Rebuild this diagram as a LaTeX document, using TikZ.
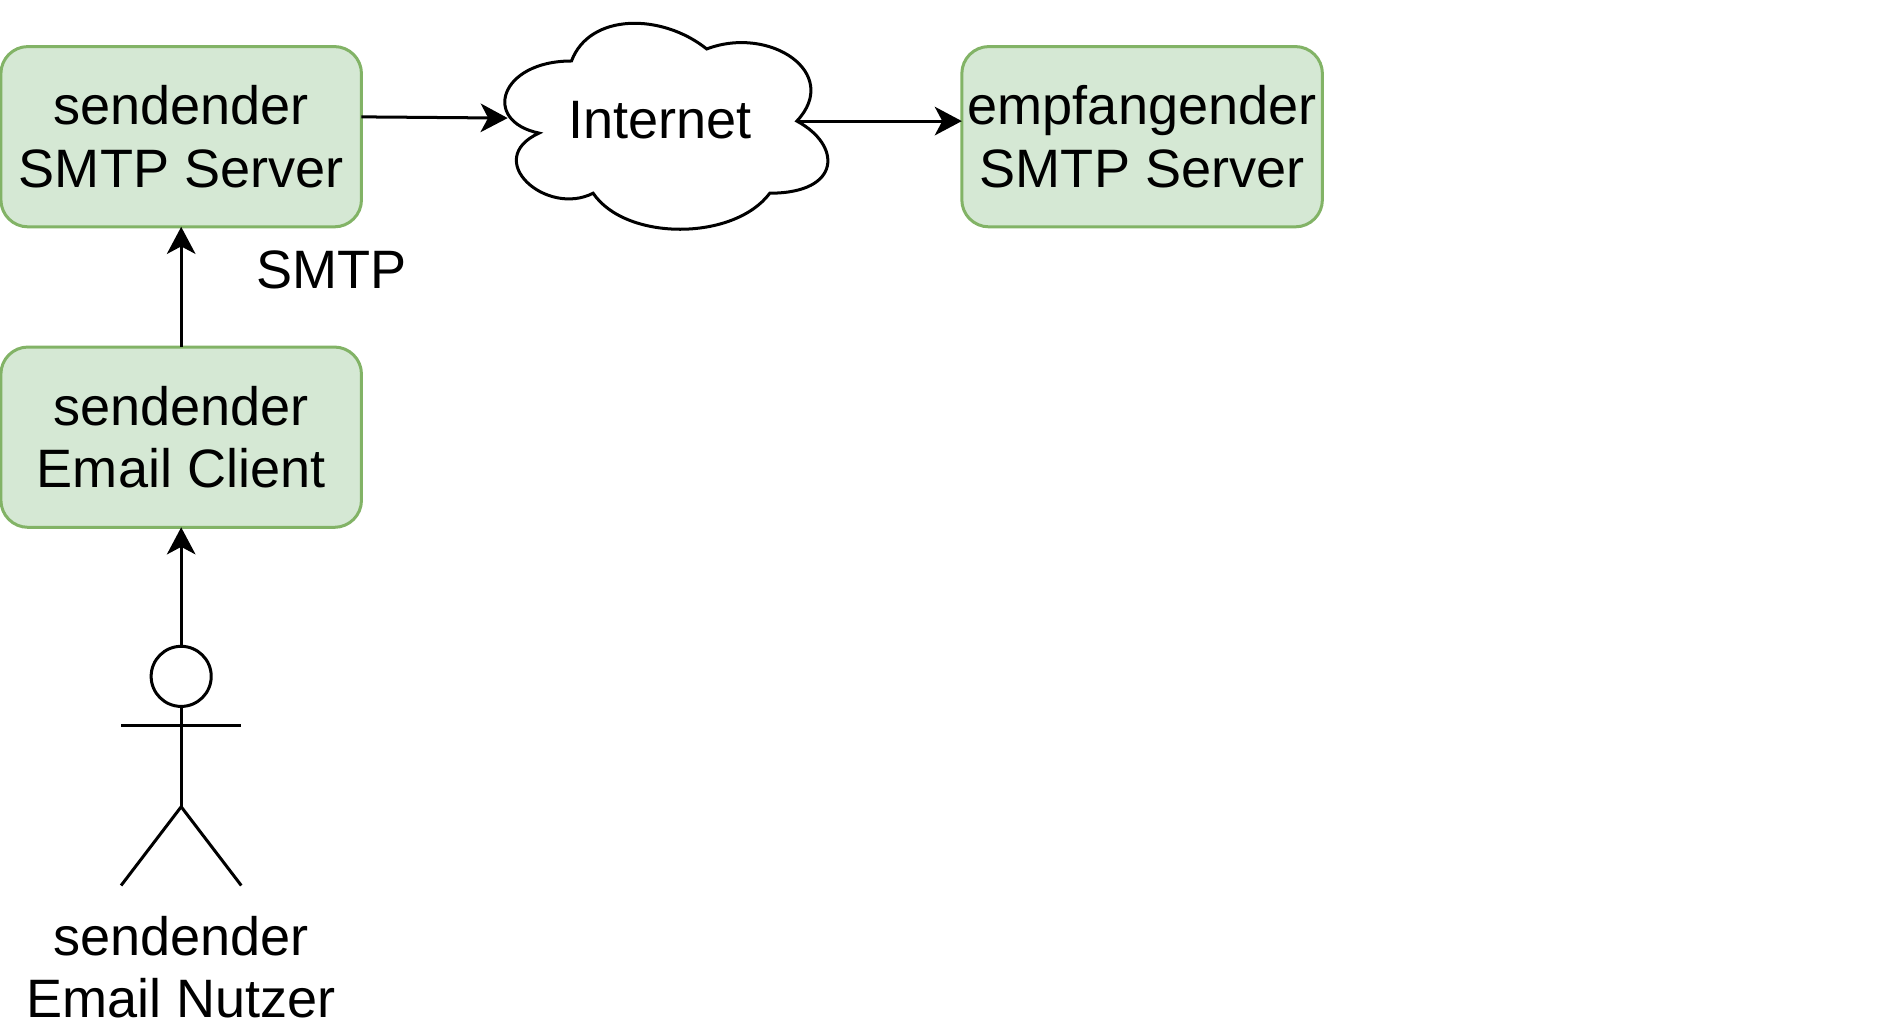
\documentclass[tikz,border=0pt]{standalone}
\usepackage{fontspec}
\setmainfont{Liberation Sans}
\usetikzlibrary{arrows.meta, positioning}

\definecolor{boxfill}{HTML}{D5E8D4}
\definecolor{boxline}{HTML}{82B366}

\begin{document}
\begin{tikzpicture}
  [
  x = 1pt, y = 1pt,
  line width = 1pt,
  % box
  box/.style = {rectangle, rounded corners = 9pt,
    draw = boxline, fill = boxfill, outer sep = 0pt, inner sep = 0pt,
    minimum height = 60pt, minimum width = 120pt, align = center},
  % label
  label/.style = {inner sep = 0pt, outer sep = 0pt, align = center},
  % head
  head/.style = {circle, draw, minimum size = 20pt, inner sep = 0pt, outer sep = 0pt},
  % line
  line/.style = {draw, -{Stealth[length = 9pt, width = 9.5pt, inset = 2.5pt]}},
  font = \fontsize{18}{20.9}\selectfont,
  node distance = 40pt,
  ]
  \useasboundingbox (0,0) rectangle (630,-344.5);

  % nodes
  \node [box] at (60.3,-45.5) (smtpsend) {sendender\\SMTP Server};
  \node [box, below= of smtpsend] (client) {sendender\\Email Client};
  \node [box, right= 199.8pt of smtpsend] (smtprecv) {empfangender\\SMTP Server};
  \node [head, below= 39.6pt of client] (kopf) {};
  \node [label] at (110.2,-89.9) (smtp) {SMTP};
  \node [label] at (60.3,-321.9) (nutzer) {sendender\\Email Nutzer};

  % cloud
  \begin{scope}[shift = {(160.2,-0.3)}, x = 120pt, y = -80pt]
    \draw [fill = white] (0.25,0.25) .. controls (0.05,0.25) and (0,0.5) .. (0.16,0.55)
      .. controls (0,0.66) and (0.18,0.9) .. (0.31,0.8)
      .. controls (0.4,1) and (0.7,1) .. (0.8,0.8)
      .. controls (1,0.8) and (1,0.6) .. (0.875,0.5)
      .. controls (1,0.3) and (0.8,0.1) .. (0.625,0.2)
      .. controls (0.5,0.05) and (0.3,0.05) .. (0.25,0.25) -- cycle;
    \node [label] at (0.496,0.495) (internet) {Internet};
    \coordinate (wolkein) at (0.073,0.4875);
    \coordinate (wolkeout) at (0.875,0.5);
  \end{scope}

  % actor
  \coordinate (arml) at (40.3,-241.6);
  \coordinate (armr) at (80.3,-241.6);
  \coordinate (huefte) at (60.3,-268.5);
  \coordinate (beinl) at (40.3,-294.7);
  \coordinate (beinr) at (80.3,-294.7);
  \draw (kopf.south) -- (huefte);
  \draw (arml) -- (armr);
  \draw (beinl) -- (huefte) -- (beinr);

  % path
  \path [line] (smtpsend.east |- 0,-38.9) -- (wolkein);
  \path [line] (kopf) -- (client);
  \path [line] (client) -- (smtpsend);
  \path [line] (wolkeout) -- (wolkeout -| smtprecv.west);

\end{tikzpicture}
\end{document}
